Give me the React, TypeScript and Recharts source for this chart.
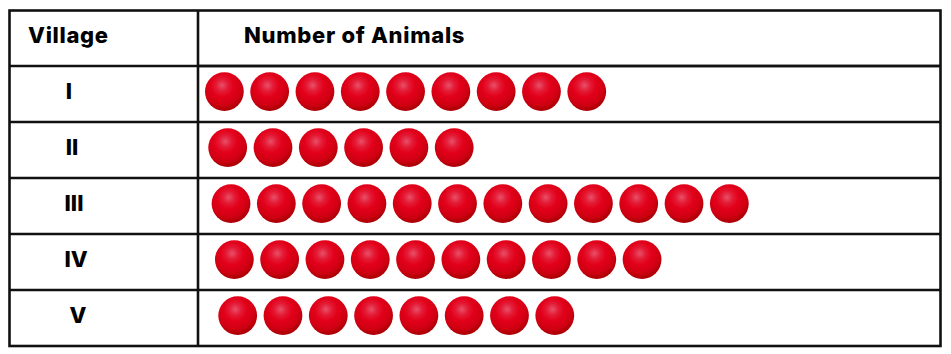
import React from "react";
import { ScatterChart, Scatter, XAxis, YAxis, ReferenceLine } from "recharts";

const villages = ["I", "II", "III", "IV", "V"];
const animalCounts = [9, 6, 12, 10, 8];
const headerVillage = "Village";
const headerAnimals = "Number of Animals";

const W = 951;
const H = 354;
const SLOT = 45.3;
const AXIS_MAX = 743 / SLOT;
const LABEL_COLUMN_START = -189 / SLOT;
const FONT = "Inter, 'Open Sans', sans-serif";
const INK = "#111111";
const rowIndent = (row: number) => 0.582 + row * 0.0735;
const tickNudge = [-129, -126, -124, -122, -120];

const rowTicks = villages.map((_, i) => i + 0.5);
const rowDividers = villages.map((_, i) => i).slice(1);
const points = villages.flatMap((village, row) =>
  Array.from({ length: animalCounts[row] }, (_, k) => ({
    village,
    animal: k + rowIndent(row),
    row: row + 0.5,
  }))
);

const Sphere = (props: any) => (
  <circle cx={props.cx} cy={props.cy - 2.4} r={19.4} fill="url(#sphere)" />
);

const RowTick = (props: any) => {
  const row = Math.floor(props.payload.value);
  return (
    <text
      x={198 + tickNudge[row]}
      y={props.y - 3}
      textAnchor="middle"
      dominantBaseline="central"
      fontFamily={FONT}
      fontWeight={800}
      fontSize={22}
      fill="#000"
    >
      {villages[row]}
    </text>
  );
};

export default function App() {
  return (
    <div style={{ position: "absolute", left: 0, top: 0, width: W, height: H, background: "#fff" }}>
      <ScatterChart
        width={W}
        height={H}
        margin={{ top: 10, right: 10, bottom: 8, left: 9 }}
      >
        <defs>
          <radialGradient id="sphere" cx="44%" cy="34%" r="72%" fx="44%" fy="34%">
            <stop offset="0%" stopColor="#e8506a" />
            <stop offset="22%" stopColor="#e41a34" />
            <stop offset="42%" stopColor="#e2001a" />
            <stop offset="70%" stopColor="#d00012" />
            <stop offset="92%" stopColor="#a80004" />
            <stop offset="100%" stopColor="#a80004" />
          </radialGradient>
        </defs>
        <XAxis
          type="number"
          dataKey="animal"
          orientation="top"
          domain={[0, AXIS_MAX]}
          height={56}
          tick={false}
          axisLine={{ stroke: INK, strokeWidth: 2.6 }}
          tickLine={false}
        />
        <YAxis
          type="number"
          dataKey="row"
          domain={[0, villages.length]}
          reversed
          width={189}
          ticks={rowTicks}
          interval={0}
          tick={<RowTick />}
          axisLine={{ stroke: INK, strokeWidth: 2.6 }}
          tickLine={false}
        />
        {rowDividers.concat(0).map((y) => (
          <ReferenceLine
            key={y}
            ifOverflow="visible"
            segment={[
              { x: LABEL_COLUMN_START, y },
              { x: AXIS_MAX, y },
            ]}
            stroke={INK}
            strokeWidth={2.6}
          />
        ))}
        <Scatter data={points} shape={<Sphere />} isAnimationActive={false} />
        <rect x={9.5} y={10.5} width={931} height={335.5} fill="none" stroke={INK} strokeWidth={2.6} />
        <line x1={198} x2={198} y1={10} y2={66} stroke={INK} strokeWidth={2.6} />
        <text x={28} y={35} dominantBaseline="central" fontFamily={FONT} fontWeight={800} fontSize={22} letterSpacing={0.7} fill="#000">
          {headerVillage}
        </text>
        <text x={244} y={35} dominantBaseline="central" fontFamily={FONT} fontWeight={800} fontSize={22} letterSpacing={0.7} fill="#000">
          {headerAnimals}
        </text>
      </ScatterChart>
    </div>
  );
}
